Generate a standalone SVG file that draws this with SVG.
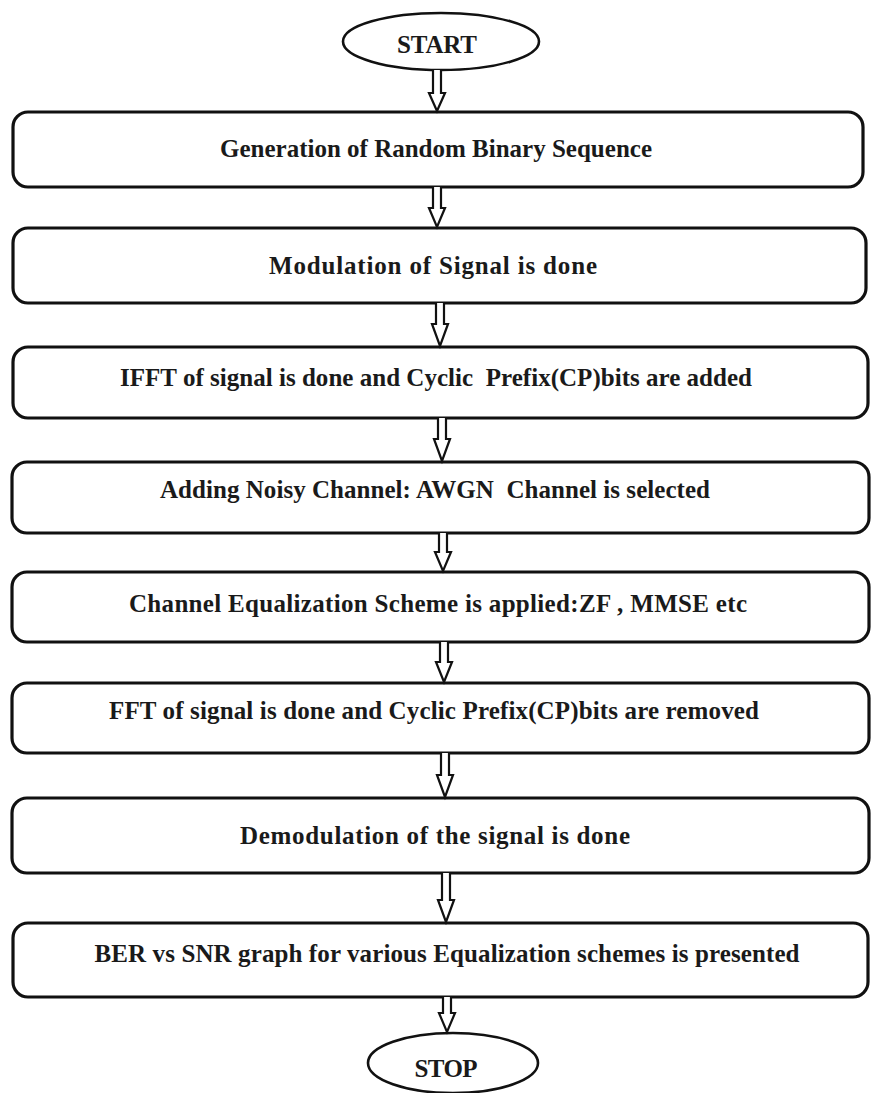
<svg xmlns="http://www.w3.org/2000/svg" width="872" height="1093" viewBox="0 0 872 1093">
<style>
.box{fill:#fff;stroke:#111;stroke-width:3.2}
.term{fill:#fff;stroke:#111;stroke-width:2.6}
.t{font-family:"Liberation Serif","Times New Roman",serif;font-weight:bold;font-size:25px;fill:#1a1a1a;text-anchor:middle;white-space:pre}
.arr{fill:#fff;stroke:#111;stroke-width:2.2;stroke-linejoin:miter}
</style>
<rect width="872" height="1093" fill="#fff"/>
<g id="start"><ellipse class="term" cx="441" cy="41.5" rx="98" ry="28.5"/><text class="t" x="437" y="53" textLength="80">START</text></g>
<g id="n1"><rect class="box" x="13" y="112" width="850" height="75" rx="15"/><text class="t" x="436" y="157" textLength="432">Generation of Random Binary Sequence</text></g>
<g id="n2"><rect class="box" x="13" y="228" width="853" height="75" rx="15"/><text class="t" x="433" y="274" textLength="328">Modulation of Signal is done</text></g>
<g id="n3"><rect class="box" x="13" y="347" width="855" height="71" rx="15"/><text class="t" x="436" y="386" textLength="632" xml:space="preserve">IFFT of signal is done and Cyclic  Prefix(CP)bits are added</text></g>
<g id="n4"><rect class="box" x="12" y="462" width="857" height="71" rx="15"/><text class="t" x="435" y="498" textLength="550" xml:space="preserve">Adding Noisy Channel: AWGN  Channel is selected</text></g>
<g id="n5"><rect class="box" x="12" y="572" width="857" height="70" rx="15"/><text class="t" x="438" y="612" textLength="618">Channel Equalization Scheme is applied:ZF , MMSE etc</text></g>
<g id="n6"><rect class="box" x="12" y="683" width="857" height="70" rx="15"/><text class="t" x="434" y="719" textLength="650">FFT of signal is done and Cyclic Prefix(CP)bits are removed</text></g>
<g id="n7"><rect class="box" x="12" y="798" width="857" height="75" rx="15"/><text class="t" x="435" y="844" textLength="390">Demodulation of the signal is done</text></g>
<g id="n8"><rect class="box" x="13" y="923" width="855" height="74" rx="15"/><text class="t" x="447" y="962" textLength="705">BER vs SNR graph for various Equalization schemes is presented</text></g>
<g id="stop"><ellipse class="term" cx="453" cy="1063" rx="85" ry="30"/><text class="t" x="446" y="1077" textLength="63">STOP</text></g>
<g id="connectors">
<path class="arr" d="M433,70 V93 H429 L437,111 L445,93 H441 V70"/>
<path class="arr" d="M433,187 V208 H429 L437,227 L445,208 H441 V187"/>
<path class="arr" d="M436,303 V324 H432 L440,346 L448,324 H444 V303"/>
<path class="arr" d="M438,418 V439 H434 L442,461 L450,439 H446 V418"/>
<path class="arr" d="M439,533 V552 H435 L443,571 L451,552 H447 V533"/>
<path class="arr" d="M440,642 V662 H436 L444,682 L452,662 H448 V642"/>
<path class="arr" d="M441,753 V775 H437 L445,797 L453,775 H449 V753"/>
<path class="arr" d="M442,873 V900 H438 L446,922 L454,900 H450 V873"/>
<path class="arr" d="M443,997 V1013 H439 L447,1032 L455,1013 H451 V997"/>
</g>
</svg>
